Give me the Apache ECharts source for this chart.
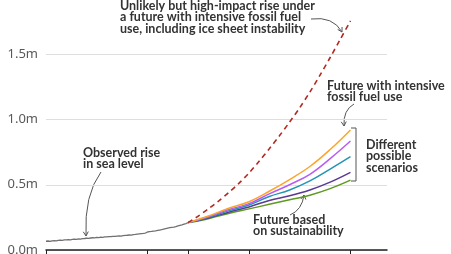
<!DOCTYPE html>
<html><head><meta charset="utf-8">
<script src="https://cdn.jsdelivr.net/npm/echarts@6/dist/echarts.min.js"></script>
<style>html,body{margin:0;padding:0;background:#fff}#c{width:451px;height:254px}</style>
</head><body><div id="c"></div>
<script>
const obsYears = [];
for (let y = 1950; y <= 2020; y++) obsYears.push(y);
const observed = [0.067,0.069,0.066,0.070,0.072,0.070,0.073,0.075,0.074,0.077,
0.078,0.080,0.078,0.081,0.083,0.082,0.085,0.084,0.087,0.088,
0.090,0.089,0.092,0.094,0.093,0.096,0.095,0.098,0.097,0.100,
0.101,0.103,0.102,0.105,0.104,0.107,0.108,0.107,0.110,0.112,
0.113,0.115,0.114,0.118,0.119,0.121,0.123,0.125,0.127,0.130,
0.138,0.140,0.142,0.145,0.147,0.150,0.153,0.156,0.160,0.164,
0.168,0.171,0.174,0.176,0.180,0.185,0.189,0.193,0.198,0.203,0.210];
const hiYears = [2020,2025,2030,2035,2040,2045,2050,2055,2060,2065,2070,2075,2080,2085,2090,2095,2100];
const highImpact = [0.21,0.26,0.315,0.375,0.44,0.51,0.59,0.68,0.775,0.875,0.98,1.09,1.21,1.34,1.475,1.615,1.755];
const projYears = [2020,2030,2040,2050,2060,2070,2080,2090,2100];
const scenOrange = [0.21,0.26,0.32,0.37,0.45,0.54,0.64,0.77,0.92];
const scenViolet = [0.21,0.255,0.31,0.355,0.43,0.50,0.58,0.70,0.835];
const scenTeal   = [0.21,0.25,0.30,0.345,0.41,0.46,0.53,0.62,0.715];
const scenPurple = [0.21,0.245,0.29,0.33,0.38,0.415,0.46,0.52,0.595];
const scenGreen  = [0.21,0.24,0.28,0.315,0.35,0.385,0.42,0.47,0.535];
const xTicks = [1950,2000,2020,2050,2100];
const yTicks = [0,0.5,1.0,1.5];

const pair = (xs, ys) => xs.map((x,i)=>[x, ys[i]]);
const FONT = 'Lato';
const TXT = '#333333';
const ARW = '#555';

function arrowHead(x, y, ang) {
  const L = 5, a = Math.PI/6;
  return {type:'polyline', silent:true, shape:{points:[
    [x - L*Math.cos(ang - a), y - L*Math.sin(ang - a)], [x, y],
    [x - L*Math.cos(ang + a), y - L*Math.sin(ang + a)]]},
    style:{stroke:ARW, lineWidth:1, fill:null}};
}
function curveArrow(x1,y1,cx,cy,x2,y2) {
  const ang = Math.atan2(y2-cy, x2-cx);
  return [
    {type:'bezierCurve', silent:true, shape:{x1:x1,y1:y1,x2:x2,y2:y2,cpx1:cx,cpy1:cy},
     style:{stroke:ARW, lineWidth:1, fill:null}},
    arrowHead(x2,y2,ang)
  ];
}
function label(x, y, lines) {
  return {type:'text', silent:true, left:x, top:y,
    style:{text:lines.join('\n'), fill:TXT, font:'bold 12.5px ' + FONT, lineHeight:11.5}};
}

const chart = echarts.init(document.getElementById('c'), null, {renderer:'canvas'});
const line = (data, color, extra) => Object.assign({
  type:'line', data:data, showSymbol:false, symbol:'none', smooth:0.4,
  lineStyle:{color:color, width:1.5}, silent:true, animation:false, z:2
}, extra || {});

chart.setOption({
  animation:false,
  grid:{left:46, right:64, top:-11, bottom:4, containLabel:false, outerBoundsMode:'none'},
  xAxis:{type:'value', min:1950, max:2118,
    axisLine:{lineStyle:{color:'#222', width:1.5}},
    axisTick:{show:true, customValues:xTicks, length:6, lineStyle:{color:'#222', width:1}},
    axisLabel:{show:false}, splitLine:{show:false}},
  yAxis:{type:'value', min:0, max:2, interval:0.5,
    axisLine:{show:false}, axisTick:{show:false},
    axisLabel:{color:'#595959', fontSize:13, fontFamily:'Noto Sans', margin:8,
      formatter:v => yTicks.indexOf(v) >= 0 ? v.toFixed(1) + 'm' : ''},
    splitLine:{lineStyle:{color:'#dedede', width:1}}},
  series:[
    line(pair(projYears, scenGreen), '#5e9a1f'),
    line(pair(projYears, scenPurple), '#5a3a94'),
    line(pair(projYears, scenTeal), '#2394b5'),
    line(pair(projYears, scenViolet), '#b95cf4'),
    line(pair(projYears, scenOrange), '#fca42c'),
    line(pair(hiYears, highImpact), '#b02a22', {smooth:0.3, lineStyle:{color:'#b02a22', width:1.6, type:[5,4]}}),
    line(pair(obsYears, observed), '#707070', {smooth:false, lineStyle:{color:'#707070', width:1.3}})
  ],
  graphic:[
    label(120, -1, ['Unlikely but high-impact rise under','a future with intensive fossil fuel','use, including ice sheet instability']),
    label(83, 146, ['Observed rise','in sea level']),
    label(327, 79, ['Future with intensive','fossil fuel use']),
    label(366, 138, ['Different','possible','scenarios']),
    label(253, 213, ['Future based','on sustainability']),
    ...curveArrow(311,19, 333,16, 342,32),
    ...curveArrow(354,104, 343,110, 344,126),
    ...curveArrow(101,172, 84,195, 86,236),
    ...curveArrow(290,215, 302,210, 304,195),
    {type:'polyline', silent:true, shape:{points:[[351,128],[356,128],[356,181],[351,181]]},
     style:{stroke:ARW, lineWidth:1, fill:null}}
  ]
});
</script></body></html>
